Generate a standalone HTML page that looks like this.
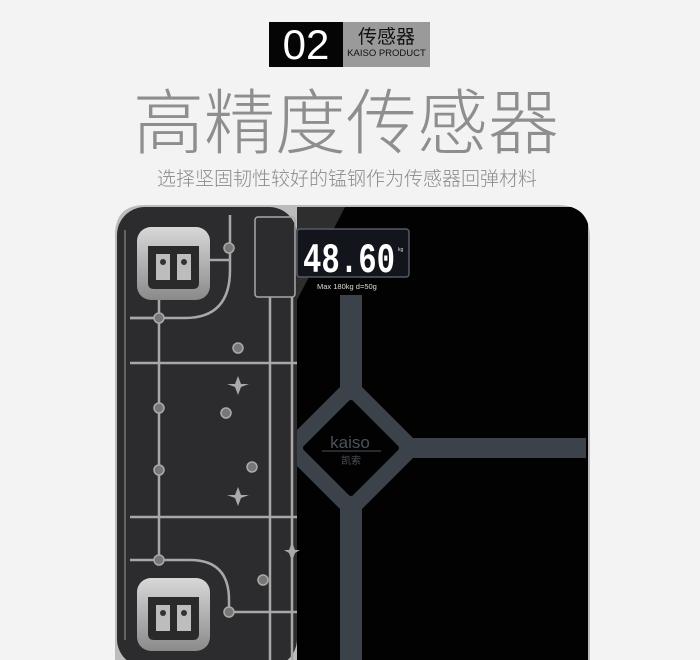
<!DOCTYPE html>
<html><head><meta charset="utf-8"><style>
body{margin:0;width:700px;height:660px;background:#f3f3f3;overflow:hidden;position:relative;font-family:"Liberation Sans","Noto Sans CJK SC",sans-serif}
.t{position:absolute;white-space:nowrap}
</style></head><body>
<div class="t" style="left:269px;top:22px;width:74px;height:45px;background:#050505;color:#fff;font-size:42px;line-height:45px;text-align:center;font-family:'Liberation Sans',sans-serif">02</div>
<div class="t" style="left:343px;top:22px;width:87px;height:45px;background:#9a9a9a;color:#111;text-align:center">
<div style="font-size:19px;line-height:24px;margin-top:2px;font-family:'Noto Sans CJK SC',sans-serif">传感器</div>
<div style="font-size:9.5px;line-height:12px">KAISO PRODUCT</div></div>
<div class="t" style="left:133px;top:68px;font-size:71px;line-height:100px;color:#8e8e8e;font-family:'Noto Sans CJK SC',sans-serif;font-weight:300">高精度传感器</div>
<div class="t" style="left:157px;top:165px;font-size:19px;line-height:26px;color:#8a8a8a;font-family:'Noto Sans CJK SC',sans-serif;font-weight:300">选择坚固韧性较好的锰钢作为传感器回弹材料</div>
<svg width="700" height="660" style="position:absolute;left:0;top:0">
<defs>
<clipPath id="sc"><path d="M145 205 H557 Q590 205 590 238 V660 H115 V235 Q115 205 145 205Z"/></clipPath>
<clipPath id="rt"><rect x="297" y="207" width="291" height="460"/></clipPath>
<linearGradient id="pad" x1="0" y1="0" x2="0" y2="1"><stop offset="0" stop-color="#d8d8d8"/><stop offset="1" stop-color="#8a8a8a"/></linearGradient>
</defs>
<path d="M145 205 H557 Q590 205 590 238 V660 H115 V235 Q115 205 145 205Z" fill="#bcbcbc"/>
<g clip-path="url(#sc)">
<rect x="117" y="207" width="180" height="460" fill="#2c2c2e" rx="28"/>
<rect x="297" y="207" width="291" height="460" fill="#020202"/>
<polygon points="297,207 345,207 297,300" fill="#3a3a3a" opacity="0.8"/>
<g stroke="#a8a8a8" stroke-width="2.5" fill="none">
<path d="M130 363 H297 M130 517 H297 M159 250 V560 M270 297 V660 M292 297 V660 M130 318 H159 M130 560 H159"/>
<path d="M130 318 H185 Q230 318 230 270 V215"/>
<path d="M159 560 H190 Q229 560 229 600 V612 H297"/>
<path d="M159 260 H230"/>
<rect x="255" y="217" width="40" height="80" rx="3" stroke-width="1.5"/>
<path d="M125 230 V640" stroke="#777" stroke-width="1.5"/>
</g>
<g fill="#777" stroke="#aaa" stroke-width="1.5">
<circle cx="159" cy="318" r="5"/><circle cx="159" cy="408" r="5"/><circle cx="159" cy="470" r="5"/><circle cx="159" cy="560" r="5"/><circle cx="229" cy="612" r="5"/><circle cx="229" cy="248" r="5"/>
<circle cx="238" cy="348" r="5"/><circle cx="226" cy="413" r="5"/><circle cx="252" cy="467" r="5"/><circle cx="263" cy="580" r="5"/>
</g>
<g fill="#aaa"><path d="M238 376 l3 8 l8 0 l-8 3 l-3 8 l-3 -8 l-8 -3 l8 0z"/><path d="M238 487 l3 8 l8 0 l-8 3 l-3 8 l-3 -8 l-8 -3 l8 0z"/><path d="M292 542 l3 8 l5 0 l-5 3 l-3 8 l-3 -8 l-5 -3 l5 0z"/></g>
<g>
<rect x="137" y="227" width="73" height="73" rx="14" fill="url(#pad)"/>
<path d="M148 246 H199 V283 Q199 289 193 289 H154 Q148 289 148 283Z" fill="#2a2a2a"/>
<path d="M156 254 H170 V280 H156Z M177 254 H191 V280 H177Z" fill="#bdbdbd"/>
<circle cx="163" cy="262" r="3" fill="#333"/><circle cx="184" cy="262" r="3" fill="#333"/>
<rect x="137" y="578" width="73" height="73" rx="14" fill="url(#pad)"/>
<path d="M148 597 H199 V634 Q199 640 193 640 H154 Q148 640 148 634Z" fill="#2a2a2a"/>
<path d="M156 605 H170 V631 H156Z M177 605 H191 V631 H177Z" fill="#bdbdbd"/>
<circle cx="163" cy="613" r="3" fill="#333"/><circle cx="184" cy="613" r="3" fill="#333"/>
</g>
<g clip-path="url(#rt)">
<g fill="#3c424a">
<rect x="340" y="295" width="22" height="370"/>
<rect x="400" y="438" width="186" height="20"/>
<polygon points="351,376 423,448 351,520 279,448"/>
</g>
<polygon points="351,403 396,448 351,493 306,448" fill="#020202" stroke="#020202" stroke-width="6" stroke-linejoin="round"/>
</g>
<text x="350" y="448" fill="#4c525a" font-size="17" text-anchor="middle" font-family="Liberation Sans,sans-serif">kaiso</text>
<line x1="322" y1="451" x2="381" y2="451" stroke="#4c525a"/>
<text x="351" y="464" fill="#4c525a" font-size="10" text-anchor="middle" font-family="Noto Sans CJK SC,sans-serif">凯索</text>
<rect x="297" y="229" width="112" height="48" rx="3" fill="#12161c" stroke="#555b63" stroke-width="1.5"/>
<text x="303" y="272" fill="#fff" font-size="42" font-weight="bold" font-family="Liberation Mono,monospace" textLength="92" lengthAdjust="spacingAndGlyphs">48.60</text>
<text x="398" y="251" fill="#ddd" font-size="5">kg</text>
<text x="317" y="289" fill="#ddd" font-size="7.5" font-family="Liberation Sans,sans-serif">Max 180kg  d=50g</text>
</g>
</svg>
</body></html>
